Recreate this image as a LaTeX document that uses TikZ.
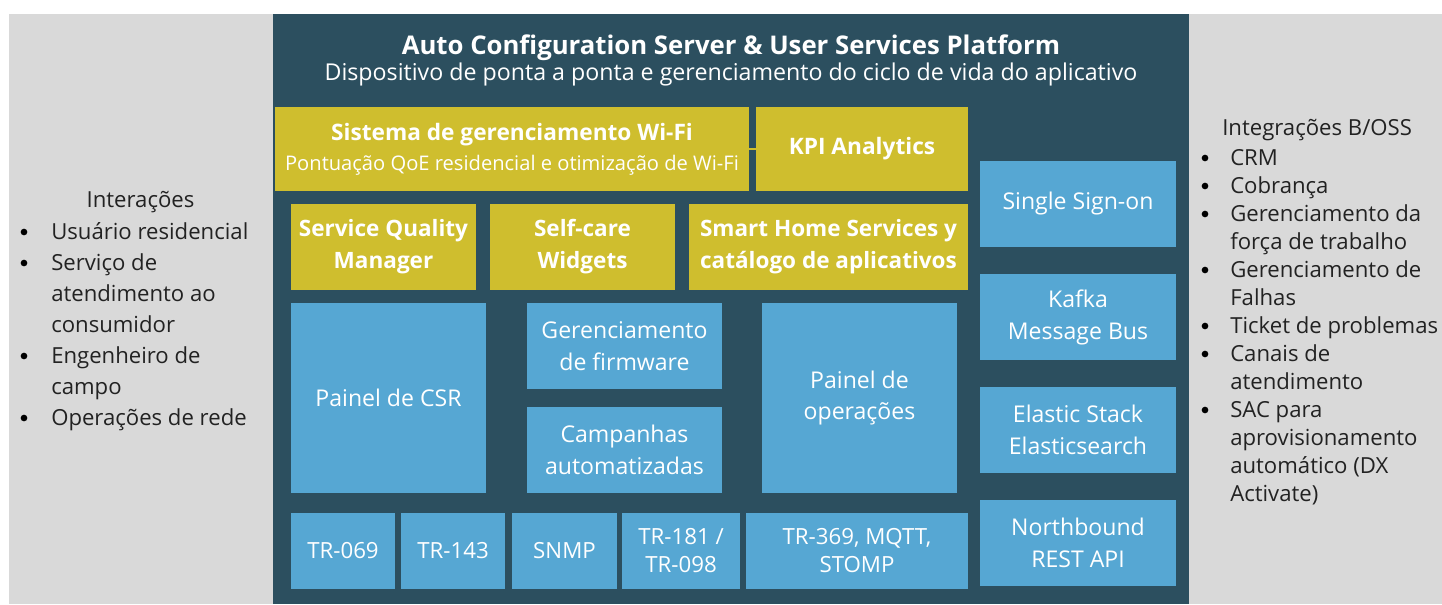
\documentclass[tikz,border=0pt]{standalone}
\usepackage{fontspec}
\setmainfont{Open Sans}
\usetikzlibrary{fit}
\definecolor{darkbg}{HTML}{2C4F5F}
\definecolor{greybg}{HTML}{D9D9D9}
\definecolor{goldb}{HTML}{CFBE2E}
\definecolor{blueb}{HTML}{56A7D3}
\definecolor{listtext}{HTML}{222222}
\begin{document}
\begin{tikzpicture}[x=0.75pt,y=-0.75pt,
  box/.style={inner sep=0pt, outer sep=0pt, text=white, align=center,
    font=\fontsize{17.3}{24}\selectfont},
  bluebox/.style={box, fill=blueb},
  goldbox/.style={box, fill=goldb, font=\bfseries\fontsize{16.9}{24}\selectfont},
  protobox/.style={bluebox, font=\fontsize{16.7}{21}\selectfont},
  listitem/.style={anchor=base west, inner sep=0pt, text=listtext,
    font=\fontsize{16.6}{20}\selectfont},
  bulletdot/.style={circle, fill=black, inner sep=0pt, minimum size=5pt},
  connector/.style={draw=goldb, line width=1.5pt}]
\useasboundingbox (0,0) rectangle (1442,604);
\fill[white] (0,0) rectangle (1442,604);
\fill[greybg] (9,14) rectangle (273,604);
\fill[darkbg] (273,14) rectangle (1189,604);
\fill[greybg] (1189,14) rectangle (1442,604);

% title
\node[anchor=base, inner sep=0pt, text=white, font=\bfseries\fontsize{19.3}{20}\selectfont] (title) at (731,54) {Auto Configuration Server \& User Services Platform};
\node[anchor=base, inner sep=0pt, text=white, font=\fontsize{17.4}{20}\selectfont] (subtitle) at (731,80) {Dispositivo de ponta a ponta e gerenciamento do ciclo de vida do aplicativo};

% gold row 1
\node[goldbox, fit={(275,107) (749,191)}] (wifi) {};
\node[anchor=base, inner sep=0pt, text=white, font=\bfseries\fontsize{17}{20}\selectfont] (wifititle) at (512,140) {Sistema de gerenciamento Wi-Fi};
\node[anchor=base, inner sep=0pt, text=white, font=\fontsize{15.1}{18}\selectfont] (wifisub) at (512,170) {Pontuação QoE residencial e otimização de Wi-Fi};
\node[goldbox, fit={(756,107) (968,191)}] (kpi) {};
\node[inner sep=0pt, text=white, font=\bfseries\fontsize{17}{20}\selectfont] (kpitext) at (kpi.center) {KPI Analytics};
\draw[connector] (wifi) -- (kpi);

% gold row 2
\node[goldbox, fit={(291,204) (476,290)}] (sqm) {};
\node[goldbox] (sqmtext) at (sqm.center) {Service Quality\\Manager};
\node[goldbox, fit={(490,204) (675,290)}] (selfcare) {};
\node[goldbox] (selfcaretext) at (selfcare.center) {Self-care\\Widgets};
\node[goldbox, fit={(689,204) (968,290)}] (smarthome) {};
\node[goldbox] (smarthometext) at (smarthome.center) {Smart Home Services y\\catálogo de aplicativos};

% blue middle
\node[bluebox, fit={(291,303) (486,493)}] (csr) {};
\node[bluebox] (csrtext) at (csr.center) {Painel de CSR};
\node[bluebox, fit={(527,303) (722,389)}] (firmware) {};
\node[bluebox] (firmwaretext) at (firmware.center) {Gerenciamento\\de firmware};
\node[bluebox, fit={(527,407) (722,493)}] (campanhas) {};
\node[bluebox] (campanhastext) at (campanhas.center) {Campanhas\\automatizadas};
\node[bluebox, fit={(762,303) (957,493)}] (ops) {};
\node[bluebox] (opstext) at (ops.center) {Painel de\\operações};

% protocols
\node[protobox, fit={(291,513) (395,589)}] (tr069) {};
\node[protobox] (tr069text) at (tr069.center) {TR-069};
\node[protobox, fit={(401,513) (505,589)}] (tr143) {};
\node[protobox] (tr143text) at (tr143.center) {TR-143};
\node[protobox, fit={(512,513) (617,589)}] (snmp) {};
\node[protobox] (snmptext) at (snmp.center) {SNMP};
\node[protobox, fit={(622,513) (740,589)}] (tr181) {};
\node[protobox] (tr181text) at (tr181.center) {TR-181 /\\TR-098};
\node[protobox, fit={(746,513) (968,589)}] (tr369) {};
\node[protobox] (tr369text) at (tr369.center) {TR-369, MQTT,\\STOMP};

% right column
\node[bluebox, fit={(980,161) (1176,247)}] (sso) {};
\node[bluebox] (ssotext) at (sso.center) {Single Sign-on};
\node[bluebox, fit={(980,274) (1176,360)}] (kafka) {};
\node[bluebox] (kafkatext) at (kafka.center) {Kafka\\Message Bus};
\node[bluebox, fit={(980,387) (1176,473)}] (elastic) {};
\node[bluebox] (elastictext) at (elastic.center) {Elastic Stack\\Elasticsearch};
\node[bluebox, fit={(980,500) (1176,586)}] (north) {};
\node[bluebox] (northtext) at (north.center) {Northbound\\REST API};

% left list
\node[listitem, anchor=base] (lhead) at (140.5,207) {Interações};
\node[listitem] (l1) at (51,239) {Usuário residencial};
\node[listitem] (l2) at (51,270) {Serviço de};
\node[listitem] (l3) at (51,301) {atendimento ao};
\node[listitem] (l4) at (51,332) {consumidor};
\node[listitem] (l5) at (51,363) {Engenheiro de};
\node[listitem] (l6) at (51,394) {campo};
\node[listitem] (l7) at (51,425) {Operações de rede};
\node[bulletdot] (lb1) at (24,232) {};
\node[bulletdot] (lb2) at (24,263) {};
\node[bulletdot] (lb3) at (24,356) {};
\node[bulletdot] (lb4) at (24,418) {};

% right list
\node[listitem] (rhead) at (1222,135) {Integrações B/OSS};
\node[listitem] (r1) at (1230,165) {CRM};
\node[listitem] (r2) at (1230,193) {Cobrança};
\node[listitem] (r3) at (1230,221) {Gerenciamento da};
\node[listitem] (r4) at (1230,249) {força de trabalho};
\node[listitem] (r5) at (1230,277) {Gerenciamento de};
\node[listitem] (r6) at (1230,305) {Falhas};
\node[listitem] (r7) at (1230,333) {Ticket de problemas};
\node[listitem] (r8) at (1230,361) {Canais de};
\node[listitem] (r9) at (1230,389) {atendimento};
\node[listitem] (r10) at (1230,417) {SAC para};
\node[listitem] (r11) at (1230,445) {aprovisionamento};
\node[listitem] (r12) at (1230,473) {automático (DX};
\node[listitem] (r13) at (1230,501) {Activate)};
\node[bulletdot] (rb1) at (1205,158) {};
\node[bulletdot] (rb2) at (1205,186) {};
\node[bulletdot] (rb3) at (1205,214) {};
\node[bulletdot] (rb4) at (1205,270) {};
\node[bulletdot] (rb5) at (1205,326) {};
\node[bulletdot] (rb6) at (1205,354) {};
\node[bulletdot] (rb7) at (1205,410) {};
\end{tikzpicture}
\end{document}
